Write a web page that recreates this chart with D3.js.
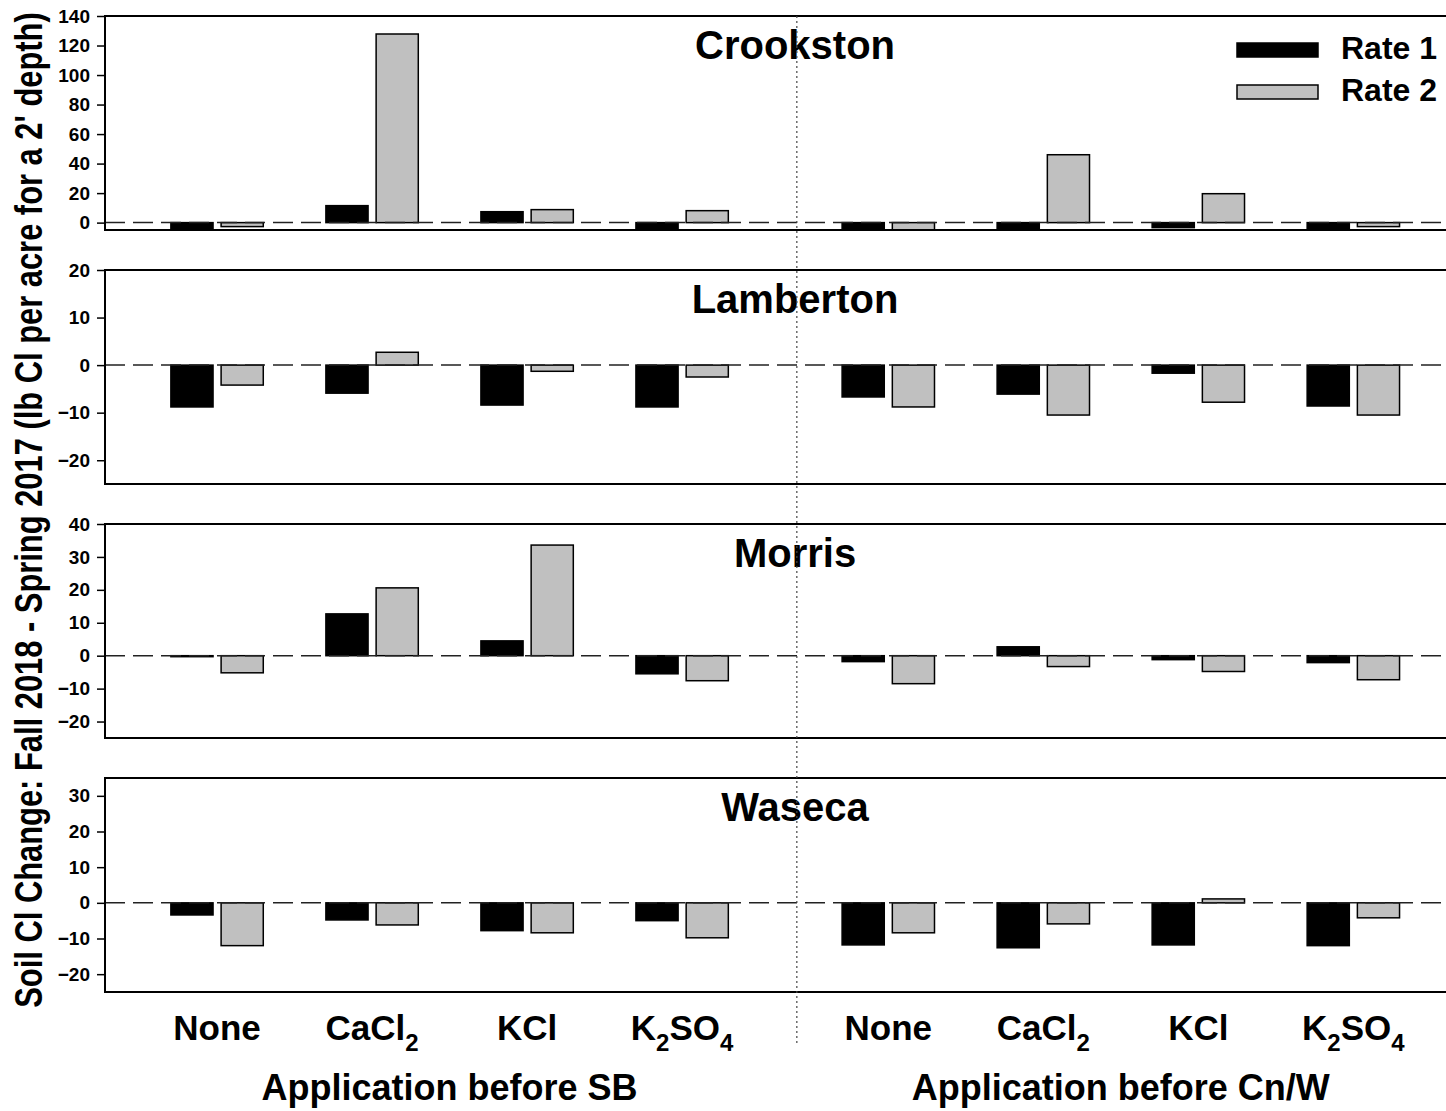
<!DOCTYPE html>
<html><head><meta charset="utf-8">
<script src="https://cdn.jsdelivr.net/npm/d3@7"></script>
<style>html,body{margin:0;padding:0;background:#fff;overflow:hidden}</style>
</head><body>
<script>
const sites = ["Crookston", "Lamberton", "Morris", "Waseca"];
const treatments = ["None", "CaCl2", "KCl", "K2SO4"];
const timings = ["Application before SB", "Application before Cn/W"];
const seriesNames = ["Rate 1", "Rate 2"];

// values: 4 treatments before SB, then 4 treatments before Cn/W
const crookstonRate1 = [-6, 11.5, 7.4, -6, -6, -6, -3.4, -6];
const crookstonRate2 = [-2.7, 127.8, 8.8, 8.1, -5, 46, 19.6, -2.7];
const lambertonRate1 = [-8.8, -5.9, -8.4, -8.8, -6.7, -6.1, -1.7, -8.6];
const lambertonRate2 = [-4.2, 2.7, -1.3, -2.5, -8.8, -10.5, -7.8, -10.5];
const morrisRate1 = [-0.3, 12.7, 4.5, -5.5, -1.8, 2.7, -1.2, -2.1];
const morrisRate2 = [-5.2, 20.6, 33.6, -7.6, -8.5, -3.3, -4.8, -7.3];
const wasecaRate1 = [-3.4, -4.8, -7.8, -5.0, -11.8, -12.6, -11.8, -12.0];
const wasecaRate2 = [-12.0, -6.2, -8.4, -9.8, -8.4, -5.9, 1.1, -4.2];

const crookstonTicks = [0, 20, 40, 60, 80, 100, 120, 140];
const lambertonTicks = [-20, -10, 0, 10, 20];
const morrisTicks = [-20, -10, 0, 10, 20, 30, 40];
const wasecaTicks = [-20, -10, 0, 10, 20, 30];

const crookstonDomain = [-5, 140];
const lambertonDomain = [-25, 20];
const morrisDomain = [-25, 40];
const wasecaDomain = [-25, 35];

const yTitle = "Soil Cl Change: Fall 2018 - Spring 2017 (lb Cl per acre for a 2' depth)";

const panels = [
  {name: sites[0], r1: crookstonRate1, r2: crookstonRate2, ticks: crookstonTicks, domain: crookstonDomain},
  {name: sites[1], r1: lambertonRate1, r2: lambertonRate2, ticks: lambertonTicks, domain: lambertonDomain},
  {name: sites[2], r1: morrisRate1, r2: morrisRate2, ticks: morrisTicks, domain: morrisDomain},
  {name: sites[3], r1: wasecaRate1, r2: wasecaRate2, ticks: wasecaTicks, domain: wasecaDomain}
];

const W = 1446, H = 1111;
const FONT = "'Liberation Sans', Arial, Helvetica, sans-serif";
const svg = d3.select("body").append("svg").attr("width", W).attr("height", H)
  .style("font-family", FONT).style("font-weight", "bold");

const left = 105, right = 1460;
// slot positions: left block 0..3, right block shifted by a gap
const gapShift = 4.33;
const slots = [];
timings.forEach((t, k) => treatments.forEach((tr, i) => slots.push(i + k * gapShift)));
const x = d3.scaleLinear().domain([-0.723, 8.018]).range([left, right]);
const barOff = 0.162, barW = 0.272;
const dividerPos = 3.74;

const panelTop0 = 16, panelH = 214, panelGap = 40;

panels.forEach((p, pi) => {
  const top = panelTop0 + pi * (panelH + panelGap);
  const bottom = top + panelH;
  const y = d3.scaleLinear().domain(p.domain).range([bottom, top]);
  const g = svg.append("g");
  const clipId = "clip" + pi;
  svg.append("clipPath").attr("id", clipId).append("rect")
    .attr("x", left).attr("y", top).attr("width", right - left).attr("height", panelH);
  const bars = g.append("g").attr("clip-path", `url(#${clipId})`);
  const rows = [];
  slots.forEach((s, i) => {
    rows.push({s, v: p.r1[i], k: 0});
    rows.push({s, v: p.r2[i], k: 1});
  });
  bars.selectAll("rect").data(rows).join("rect")
    .attr("x", d => x(d.s + (d.k === 0 ? -barOff : barOff) - barW / 2))
    .attr("width", x(barW) - x(0))
    .attr("y", d => y(Math.max(0, d.v)))
    .attr("height", d => Math.abs(y(d.v) - y(0)))
    .attr("fill", d => d.k === 0 ? "#000" : "#c0c0c0")
    .attr("stroke", "#000").attr("stroke-width", 1.5);
  // zero dashed line
  g.append("line").attr("x1", left).attr("x2", right).attr("y1", y(0)).attr("y2", y(0))
    .attr("stroke", "#222").attr("stroke-width", 1.5).attr("stroke-dasharray", "20,8");
  // axis
  const axis = d3.axisLeft(y).tickValues(p.ticks).tickSize(8).tickPadding(7).tickFormat(d3.format("d"));
  const ag = g.append("g").attr("transform", `translate(${left},0)`).call(axis);
  ag.select(".domain").remove();
  ag.selectAll(".tick line").attr("stroke", "#000").attr("stroke-width", 1.5);
  ag.selectAll(".tick text").attr("font-size", 19).attr("font-weight", "bold")
    .attr("font-family", FONT).attr("fill", "#000");
  // frame
  g.append("rect").attr("x", left).attr("y", top).attr("width", right - left).attr("height", panelH)
    .attr("fill", "none").attr("stroke", "#000").attr("stroke-width", 2);
  // title
  g.append("text").attr("x", 795).attr("y", top + 42.5).attr("text-anchor", "middle")
    .attr("font-size", 40).text(p.name);
});

// divider
svg.append("line").attr("x1", x(dividerPos)).attr("x2", x(dividerPos))
  .attr("y1", panelTop0).attr("y2", 1045)
  .attr("stroke", "#444").attr("stroke-width", 1.2).attr("stroke-dasharray", "2,3");

// legend
const legY = [43, 85];
seriesNames.forEach((n, i) => {
  svg.append("rect").attr("x", 1237).attr("y", legY[i]).attr("width", 81).attr("height", 14)
    .attr("fill", i === 0 ? "#000" : "#c0c0c0").attr("stroke", "#000").attr("stroke-width", 1.5);
  svg.append("text").attr("x", 1341).attr("y", legY[i] + 15.5).attr("font-size", 32).text(n);
});

// x tick labels with subscripts
function addLabel(xc, yb, label) {
  const t = svg.append("text").attr("x", xc).attr("y", yb).attr("text-anchor", "middle").attr("font-size", 35);
  const parts = label.match(/[A-Za-z]+|\d+/g);
  let sub = false;
  parts.forEach(pt => {
    if (/\d/.test(pt)) {
      t.append("tspan").attr("dy", sub ? 0 : 11).attr("font-size", 24).text(pt);
      sub = true;
    } else {
      t.append("tspan").attr("dy", sub ? -11 : 0).text(pt);
      sub = false;
    }
  });
}
slots.forEach((s, i) => addLabel(x(s), 1040, treatments[i % 4]));

// group labels
timings.forEach((t, k) => {
  const xc = (x(k * gapShift) + x(3 + k * gapShift)) / 2;
  svg.append("text").attr("x", xc).attr("y", 1100).attr("text-anchor", "middle")
    .attr("font-size", 36).text(t);
});

// y title (condensed along its length, like the reference)
const yt = svg.append("text").attr("text-anchor", "middle").attr("font-size", 38).text(yTitle);
const natural = yt.node().getComputedTextLength();
const sx = 996 / natural;
yt.attr("transform", `translate(42,510) rotate(-90) scale(${sx},1)`);
</script>
</body></html>
